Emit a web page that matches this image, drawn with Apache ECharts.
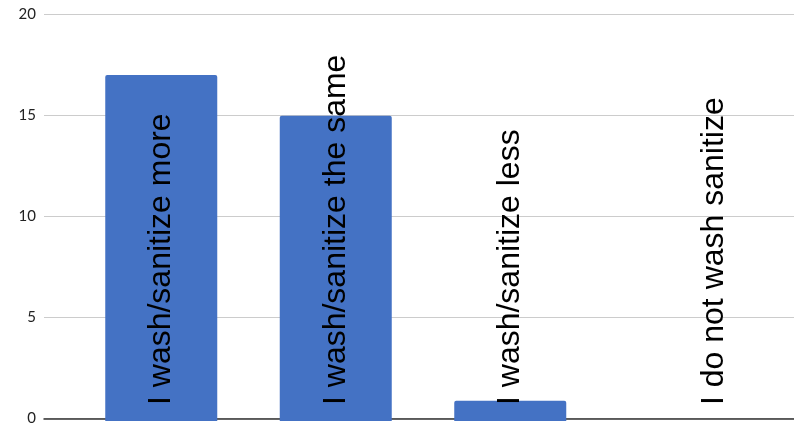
<!DOCTYPE html>
<html>
<head>
<meta charset="utf-8">
<script src="https://cdn.jsdelivr.net/npm/echarts@6/dist/echarts.min.js"></script>
<style>
  html, body { margin: 0; padding: 0; background: #fff; }
  #chart { width: 794px; height: 426px; }
</style>
</head>
<body>
<div id="chart"></div>
<script>
// Survey responses: change in hand washing / sanitizing habits
const categories = [
  'I wash/sanitize more',
  'I wash/sanitize the same',
  'I wash/sanitize less',
  'I do not wash sanitize'
];
const responses = [17, 15, 1, 0];
const yTicks = { min: 0, max: 20, step: 5 };

const chart = echarts.init(document.getElementById('chart'), null, { renderer: 'canvas' });

const barData = responses.map((v) => {
  if (v === 0) {
    // empty bar: keep its name label, nudged to the right
    return { value: v, label: { offset: [0, 29] } };
  }
  return v;
});

chart.setOption({
  animation: false,
  backgroundColor: '#ffffff',
  grid: [
    { left: 44, right: 0, top: 14, bottom: 5 },
    { left: 74, width: 698, top: 14, bottom: 5 }
  ],
  xAxis: [
    {
      type: 'category', gridIndex: 0, data: categories,
      axisLine: { show: true, lineStyle: { color: '#333333', width: 1.5 } },
      axisTick: { show: false }, axisLabel: { show: false }
    },
    {
      type: 'category', gridIndex: 1, data: categories,
      axisLine: { show: false }, axisTick: { show: false }, axisLabel: { show: false }
    }
  ],
  yAxis: [
    {
      type: 'value', gridIndex: 0,
      min: yTicks.min, max: yTicks.max, interval: yTicks.step,
      axisLine: { show: false }, axisTick: { show: false },
      axisLabel: { color: '#222222', fontSize: 15, fontFamily: 'Lato', margin: 8 },
      splitLine: { lineStyle: { color: '#cccccc', width: 1 } }
    },
    {
      type: 'value', gridIndex: 1,
      min: yTicks.min, max: yTicks.max, interval: yTicks.step,
      show: false, splitLine: { show: false }
    }
  ],
  series: [{
    type: 'bar',
    xAxisIndex: 1, yAxisIndex: 1,
    data: barData,
    barWidth: 112,
    itemStyle: { color: '#4472c4', borderRadius: [2, 2, 0, 0] },
    label: {
      show: true,
      formatter: '{b}',
      position: 'insideBottom',
      rotate: 90,
      align: 'left',
      verticalAlign: 'middle',
      distance: 16,
      color: '#000000',
      fontSize: 32,
      fontFamily: 'Liberation Sans, Arial, sans-serif'
    }
  }]
});
</script>
</body>
</html>
